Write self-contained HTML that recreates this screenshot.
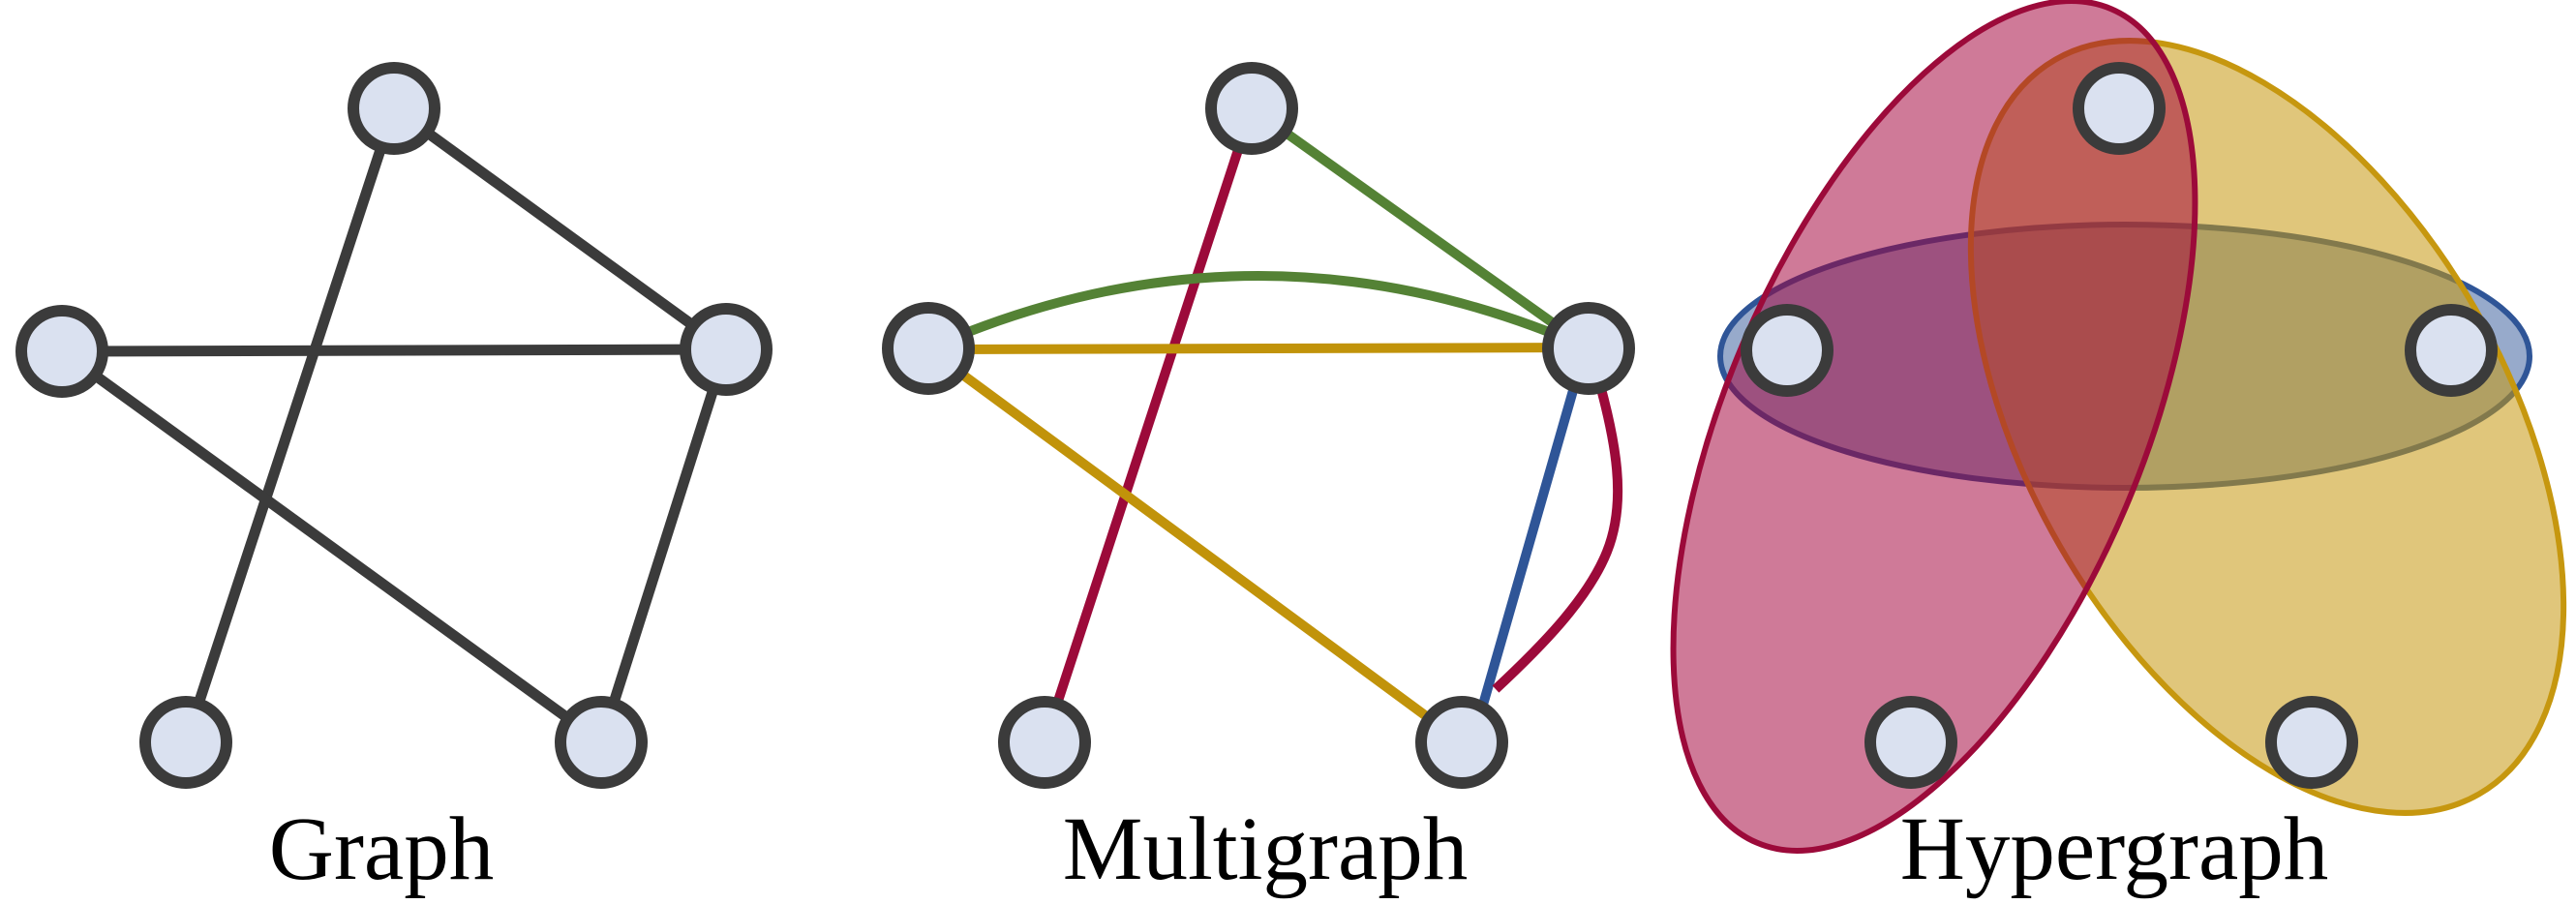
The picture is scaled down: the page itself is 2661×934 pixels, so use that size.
<!DOCTYPE html>
<html><head><meta charset="utf-8"><style>
html,body{margin:0;padding:0;background:#fff;width:2661px;height:934px;overflow:hidden}
svg{display:block}
text{font-family:"Liberation Serif",serif;font-size:93px;fill:#000}
</style></head><body>
<svg width="2661" height="934" viewBox="0 0 2661 934" xmlns="http://www.w3.org/2000/svg">
<g stroke="#3b3b3b" stroke-width="11" fill="none">
<line x1="407" y1="112" x2="192" y2="767"/>
<line x1="407" y1="112" x2="750" y2="361"/>
<line x1="64" y1="363" x2="750" y2="361"/>
<line x1="64" y1="363" x2="621" y2="767"/>
<line x1="750" y1="361" x2="621" y2="767"/>
</g>
<g stroke-width="10" fill="none">
<line x1="1293" y1="112" x2="1079" y2="767" stroke="#9c0a3a"/>
<line x1="1293" y1="112" x2="1641" y2="360" stroke="#548235"/>
<path d="M959 360 Q1300 210 1641 360" stroke="#548235"/>
<line x1="959" y1="361" x2="1641" y2="359" stroke="#c1930a"/>
<line x1="959" y1="361" x2="1510" y2="767" stroke="#c1930a"/>
<line x1="1636" y1="365" x2="1530" y2="735" stroke="#2f5597"/>
<path d="M1645 370 C1672 460 1680 520 1660 570 C1640 620 1590 670 1545 712" stroke="#9c0a3a"/>
</g>
<g stroke="#3b3b3b" stroke-width="12" fill="#dae1f0">
<circle cx="407" cy="112" r="42"/><circle cx="64" cy="363" r="42"/><circle cx="750" cy="361" r="42"/><circle cx="192" cy="767" r="42"/><circle cx="621" cy="767" r="42"/>
<circle cx="1293" cy="112" r="42"/><circle cx="959" cy="360" r="42"/><circle cx="1641" cy="360" r="42"/><circle cx="1079" cy="767" r="42"/><circle cx="1510" cy="767" r="42"/>
</g>
<ellipse cx="2195" cy="368" rx="418" ry="136" fill="#2f5597" fill-opacity="0.5" stroke="#2f5597" stroke-width="6"/>
<ellipse cx="2342" cy="441" rx="247" ry="438" transform="rotate(-30 2342 441)" fill="#c6970f" fill-opacity="0.55" stroke="#c6970f" stroke-width="6"/>
<ellipse cx="1998" cy="440" rx="215" ry="468" transform="rotate(23 1998 440)" fill="#a3003a" fill-opacity="0.52" stroke="#9c0a3a" stroke-width="6"/>
<g stroke="#3b3b3b" stroke-width="12" fill="#dae1f0">
<circle cx="2189" cy="112" r="42"/><circle cx="1846" cy="362" r="42"/><circle cx="2532" cy="362" r="42"/><circle cx="1974" cy="767" r="42"/><circle cx="2388" cy="767" r="42"/>
</g>
<text x="394" y="908" text-anchor="middle">Graph</text>
<text x="1307" y="908" text-anchor="middle">Multigraph</text>
<text x="2184" y="908" text-anchor="middle">Hypergraph</text>
</svg>
</body></html>
